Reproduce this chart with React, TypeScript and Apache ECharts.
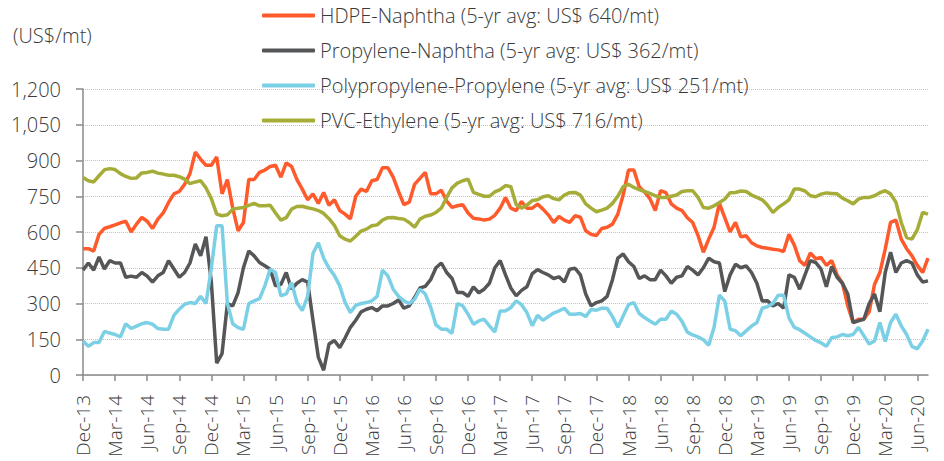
import React, { useEffect, useRef } from 'react';
import * as echarts from 'echarts';

const TICK_LABELS = [
  'Dec-13', 'Mar-14', 'Jun-14', 'Sep-14', 'Dec-14', 'Mar-15', 'Jun-15', 'Sep-15', 'Dec-15',
  'Mar-16', 'Jun-16', 'Sep-16', 'Dec-16', 'Mar-17', 'Jun-17', 'Sep-17', 'Dec-17', 'Mar-18',
  'Jun-18', 'Sep-18', 'Dec-18', 'Mar-19', 'Jun-19', 'Sep-19', 'Dec-19', 'Mar-20', 'Jun-20',
];

const SERIES_NAMES = [
  'HDPE-Naphtha (5-yr avg: US$ 640/mt)',
  'Propylene-Naphtha (5-yr avg: US$ 362/mt)',
  'Polypropylene-Propylene (5-yr avg: US$ 251/mt)',
  'PVC-Ethylene (5-yr avg: US$ 716/mt)',
];

const SERIES_COLORS = ['#FF5A2C', '#555658', '#7CD0E6', '#A5AD38'];

// semi-monthly readings, Dec-13 onward
const HDPE_NAPHTHA = [
  530, 530, 520, 590, 615, 622, 630, 638, 645, 600,
  633, 661, 645, 615, 654, 680, 724, 760, 770, 800,
  845, 935, 905, 880, 880, 915, 760, 820, 700, 605,
  640, 820, 820, 850, 860, 875, 880, 830, 890, 875,
  820, 780, 735, 760, 720, 766, 712, 735, 690, 675,
  655, 750, 780, 770, 815, 820, 870, 870, 830, 770,
  715, 725, 800, 825, 850, 760, 760, 775, 730, 703,
  710, 715, 680, 658, 655, 650, 654, 670, 700, 745,
  700, 690, 728, 700, 700, 717, 696, 672, 640, 665,
  650, 640, 668, 662, 605, 590, 585, 615, 620, 633,
  675, 755, 860, 860, 790, 768, 740, 690, 773, 765,
  718, 700, 690, 660, 640, 585, 515, 570, 620, 720,
  660, 600, 640, 580, 584, 555, 542, 535, 532, 528,
  525, 518, 590, 545, 480, 460, 512, 488, 493, 460,
  480, 420, 385, 290, 220, 234, 234, 265, 380, 430,
  528, 640, 650, 570, 530, 500, 460, 430, 490,
];

const PROPYLENE_NAPHTHA = [
  440, 470, 440, 495, 445, 480, 470, 470, 410, 415,
  410, 430, 415, 390, 416, 430, 480, 445, 410, 430,
  470, 550, 500, 580, 390, 50, 90, 300, 290, 346,
  450, 520, 500, 472, 458, 444, 374, 380, 430, 360,
  385, 400, 390, 230, 75, 20, 130, 145, 115, 155,
  200, 230, 265, 276, 283, 270, 290, 290, 300, 315,
  280, 290, 325, 365, 372, 400, 450, 470, 430, 405,
  346, 346, 330, 370, 345, 360, 385, 450, 480, 420,
  365, 332, 355, 370, 425, 442, 430, 420, 405, 412,
  390, 444, 448, 420, 340, 290, 304, 311, 330, 400,
  490, 508, 475, 455, 405, 416, 400, 400, 440, 416,
  385, 410, 416, 455, 440, 420, 450, 490, 475, 470,
  350, 420, 465, 450, 458, 430, 385, 310, 312, 290,
  300, 280, 420, 410, 360, 420, 480, 472, 444, 370,
  455, 410, 385, 340, 220, 227, 234, 300, 340, 265,
  430, 515, 430, 470, 480, 470, 420, 390, 395,
];

const PP_PROPYLENE = [
  143, 120, 136, 136, 183, 176, 170, 160, 215, 195,
  205, 215, 220, 213, 195, 192, 192, 250, 276, 297,
  304, 300, 330, 300, 450, 626, 626, 300, 215, 199,
  192, 300, 311, 320, 374, 444, 430, 332, 340, 388,
  304, 270, 330, 510, 555, 490, 448, 418, 374, 304,
  262, 292, 300, 304, 311, 330, 440, 416, 360, 330,
  311, 300, 317, 360, 340, 285, 210, 192, 192, 175,
  300, 290, 255, 213, 227, 234, 206, 180, 269, 269,
  283, 311, 295, 262, 207, 250, 230, 245, 260, 269,
  280, 255, 255, 258, 245, 275, 272, 280, 280, 245,
  200, 248, 295, 304, 258, 241, 227, 213, 234, 234,
  268, 255, 225, 180, 168, 160, 148, 125, 200, 335,
  310, 192, 186, 165, 185, 205, 220, 280, 287, 300,
  335, 335, 240, 200, 190, 175, 160, 145, 135, 120,
  157, 160, 170, 165, 170, 200, 165, 130, 143, 220,
  140, 220, 255, 206, 170, 120, 110, 143, 192,
];

const PVC_ETHYLENE = [
  829, 815, 810, 836, 861, 866, 862, 845, 833, 825,
  827, 848, 850, 855, 847, 843, 838, 838, 832, 822,
  803, 810, 815, 785, 740, 675, 668, 672, 696, 700,
  703, 712, 720, 710, 710, 712, 680, 650, 660, 696,
  707, 708, 702, 697, 690, 678, 656, 628, 584, 570,
  562, 582, 604, 612, 626, 630, 650, 660, 661, 657,
  654, 640, 620, 654, 666, 671, 682, 700, 745, 785,
  805, 815, 822, 766, 758, 750, 750, 768, 778, 795,
  790, 715, 700, 713, 732, 735, 748, 752, 740, 735,
  755, 765, 766, 755, 718, 700, 685, 692, 700, 720,
  750, 790, 800, 787, 778, 770, 762, 752, 745, 745,
  750, 755, 770, 773, 773, 745, 703, 700, 710, 724,
  738, 765, 766, 772, 770, 755, 745, 735, 712, 682,
  703, 718, 735, 780, 780, 772, 752, 748, 759, 764,
  762, 760, 742, 731, 718, 738, 745, 745, 752, 765,
  773, 760, 725, 640, 577, 570, 610, 682, 675,
];

const SERIES_DATA = [HDPE_NAPHTHA, PROPYLENE_NAPHTHA, PP_PROPYLENE, PVC_ETHYLENE];

const FONT = '"Open Sans", Lato, sans-serif';
const TEXT_COLOR = '#3a3a3a';
const AXIS_COLOR = '#8a8a8a';

export default function App() {
  const ref = useRef<HTMLDivElement>(null);

  useEffect(() => {
    if (!ref.current) return;
    const chart = echarts.init(ref.current, undefined, { renderer: 'svg' });
    const categories = HDPE_NAPHTHA.map((_, i) => (i % 6 === 0 ? TICK_LABELS[i / 6] : 'p' + i));

    chart.setOption({
      animation: false,
      backgroundColor: '#ffffff',
      textStyle: { fontFamily: FONT },
      grid: { left: 83, right: 16, top: 89, bottom: 86, containLabel: false },
      legend: {
        orient: 'vertical',
        left: 262,
        top: 5,
        padding: 0,
        itemWidth: 53,
        itemHeight: 4,
        itemGap: 14,
        icon: 'roundRect',
        data: SERIES_NAMES,
        textStyle: { fontSize: 20, color: TEXT_COLOR, fontFamily: FONT, fontWeight: 300, lineHeight: 21 },
      },
      graphic: [
        {
          type: 'text',
          left: 13,
          top: 25,
          style: { text: '(US$/mt)', fontSize: 20, fill: TEXT_COLOR, fontFamily: FONT, fontWeight: 300 },
        },
      ],
      xAxis: {
        type: 'category',
        boundaryGap: false,
        data: categories,
        axisLine: { lineStyle: { color: AXIS_COLOR, width: 1.5 } },
        axisTick: { interval: 5, length: 6, lineStyle: { color: AXIS_COLOR, width: 1.5 } },
        axisLabel: {
          interval: 5,
          rotate: 90,
          margin: 20,
          fontSize: 19,
          color: TEXT_COLOR,
          fontFamily: FONT,
          fontWeight: 300,
        },
        splitLine: { show: false },
      },
      yAxis: {
        type: 'value',
        min: 0,
        max: 1200,
        interval: 150,
        axisLine: { show: true, lineStyle: { color: AXIS_COLOR, width: 1.5 } },
        axisTick: { show: true, length: 7, lineStyle: { color: AXIS_COLOR, width: 1.5 } },
        axisLabel: {
          margin: 22,
          fontSize: 20,
          color: TEXT_COLOR,
          fontFamily: FONT,
          fontWeight: 300,
          formatter: (v: number) => v.toLocaleString('en-US'),
        },
        splitLine: { lineStyle: { type: 'dotted', color: '#c4c4c4', width: 1 } },
      },
      series: SERIES_NAMES.map((name, k) => ({
        name,
        type: 'line',
        data: SERIES_DATA[k],
        showSymbol: false,
        symbol: 'none',
        smooth: false,
        color: SERIES_COLORS[k],
        lineStyle: { width: 3.5, color: SERIES_COLORS[k] },
        emphasis: { disabled: true },
      })),
    });

    return () => chart.dispose();
  }, []);

  return (
    <div
      ref={ref}
      style={{ position: 'fixed', left: 0, top: 0, width: 944, height: 461, background: '#fff' }}
    />
  );
}
